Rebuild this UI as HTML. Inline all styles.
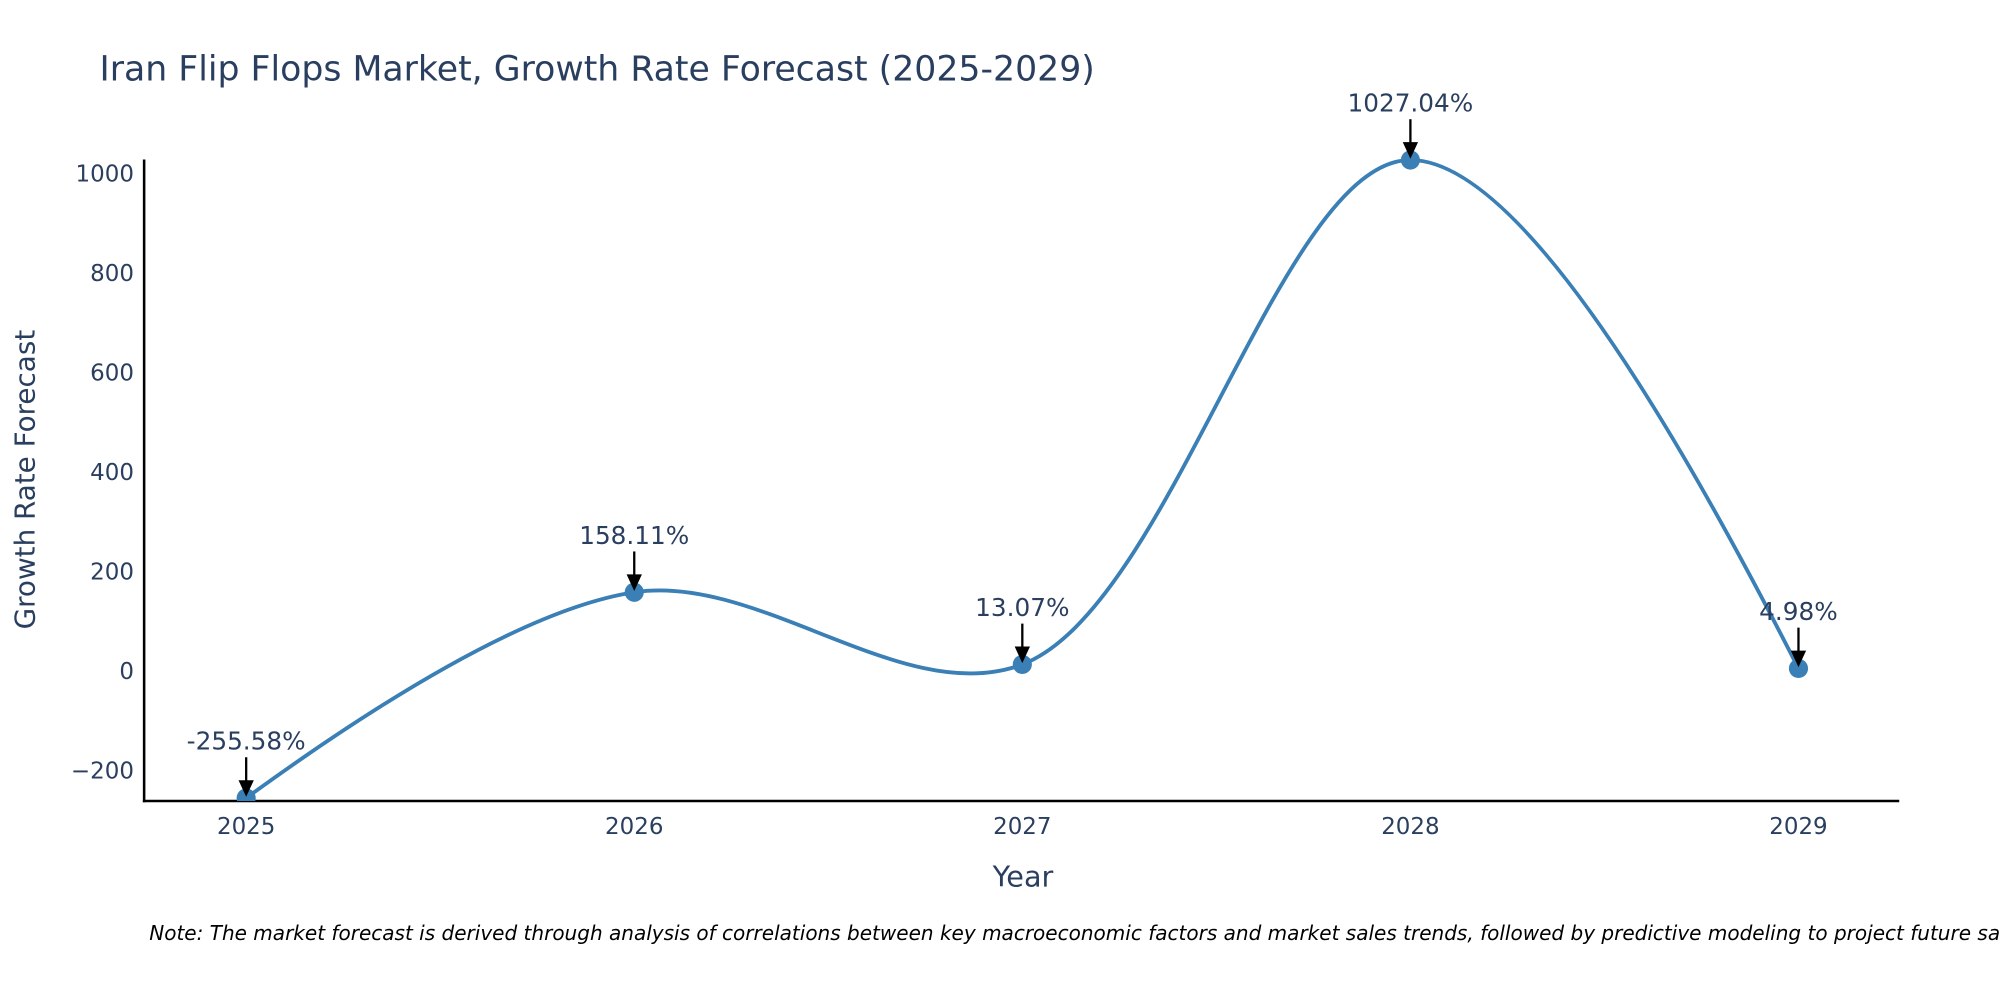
<!DOCTYPE html>
<html><head><meta charset="utf-8"><style>
html,body{margin:0;padding:0;background:#fff;overflow:hidden;}
svg{display:block;font-family:"DejaVu Sans","Liberation Sans",sans-serif;}
</style></head><body>
<svg id="chart" width="2000" height="1000" viewBox="0 0 1568 784" xmlns="http://www.w3.org/2000/svg">
<text x="78" y="63" font-size="27.2" fill="#2a3f5f">Iran Flip Flops Market, Growth Rate Forecast (2025-2029)</text>
<g id="yticks"></g>
<g id="xticks"></g>
<line x1="113" y1="125" x2="113" y2="629" stroke="#000" stroke-width="2"/>
<line x1="112" y1="628" x2="1489" y2="628" stroke="#000" stroke-width="2"/>
<text transform="translate(27,376) rotate(-90)" text-anchor="middle" font-size="21.8" fill="#2a3f5f">Growth Rate Forecast</text>
<text x="802" y="695" text-anchor="middle" font-size="22.5" fill="#2a3f5f">Year</text>
<g id="series"></g>
<g id="annos"></g>
<text x="117" y="737" font-size="15.7" font-style="italic" fill="#000">Note: The market forecast is derived through analysis of correlations between key macroeconomic factors and market sales trends, followed by predictive modeling to project future sales.</text>
</svg>
<script>
const years = [2025, 2026, 2027, 2028, 2029];
const growth = [-255.58, 158.11, 13.07, 1027.04, 4.98];
const labels = ["-255.58%", "158.11%", "13.07%", "1027.04%", "4.98%"];
const yTickVals = [-200, 0, 200, 400, 600, 800, 1000];
const yTickLabels = ["\u2212200", "0", "200", "400", "600", "800", "1000"];

const NS = "http://www.w3.org/2000/svg";
function xs(v){ return 193 + (v - 2025) * 304.25; }
function ys(v){ return 526 - v * 0.39; }
function mk(tag, attrs, parent){ const e = document.createElementNS(NS, tag); for (const k in attrs) e.setAttribute(k, attrs[k]); parent.appendChild(e); return e; }

const yt = document.getElementById('yticks');
yTickVals.forEach((v, i) => {
  const t = mk('text', {x: 105, y: ys(v) + 6.5, 'text-anchor': 'end', 'font-size': 18, fill: '#2a3f5f'}, yt);
  
  
  t.textContent = yTickLabels[i];
});
const xt = document.getElementById('xticks');
years.forEach(y => {
  const t = mk('text', {x: xs(y), y: 654, 'text-anchor': 'middle', 'font-size': 18, fill: '#2a3f5f'}, xt);
  
  
  t.textContent = String(y);
});

// plotly-style spline
const pts = years.map((y, i) => [xs(y), ys(growth[i])]);
function makeTangent(p0, p1, p2, sm){
  const d1x = p0[0]-p1[0], d1y = p0[1]-p1[1], d2x = p2[0]-p1[0], d2y = p2[1]-p1[1];
  const d1a = Math.pow(d1x*d1x + d1y*d1y, 0.25), d2a = Math.pow(d2x*d2x + d2y*d2y, 0.25);
  const numx = (d2a*d2a*d1x - d1a*d1a*d2x) * sm, numy = (d2a*d2a*d1y - d1a*d1a*d2y) * sm;
  const den1 = 3*d2a*(d1a+d2a), den2 = 3*d1a*(d1a+d2a);
  return [[p1[0] + numx/den1, p1[1] + numy/den1], [p1[0] - numx/den2, p1[1] - numy/den2]];
}
const tg = [];
for (let i = 1; i < pts.length - 1; i++) tg.push(makeTangent(pts[i-1], pts[i], pts[i+1], 1));
let d = `M${pts[0]} Q${tg[0][0]} ${pts[1]}`;
for (let i = 2; i < pts.length - 1; i++) d += ` C${tg[i-2][1]} ${tg[i-1][0]} ${pts[i]}`;
d += ` Q${tg[tg.length-1][1]} ${pts[pts.length-1]}`;

const s = document.getElementById('series');
const clip = mk('clipPath', {id: 'pc'}, s);
mk('rect', {x: 113, y: 0, width: 1376, height: 628}, clip);
const line = mk('path', {d: d, fill: 'none', stroke: '#3a7fb5', 'stroke-width': 3, 'clip-path': 'url(#pc)'}, s);


pts.forEach(p => {
  const c = mk('circle', {cx: p[0], cy: p[1], r: 7.5, fill: '#3a7fb5', 'clip-path': 'url(#pc)'}, s);
  
  
});

const a = document.getElementById('annos');
pts.forEach((p, i) => {
  const g = mk('g', {}, a);
  
  
  const t = mk('text', {x: p[0], y: p[1] - 38, 'text-anchor': 'middle', 'font-size': 19.4, fill: '#2a3f5f'}, g);
  t.textContent = labels[i];
  mk('line', {x1: p[0], y1: p[1] - 32, x2: p[0], y2: p[1] - 10, stroke: '#000', 'stroke-width': 1.8}, g);
  mk('path', {d: `M${p[0]-6},${p[1]-14} L${p[0]+6},${p[1]-14} L${p[0]},${p[1]-1} Z`, fill: '#000'}, g);
});
</script>
</body></html>
